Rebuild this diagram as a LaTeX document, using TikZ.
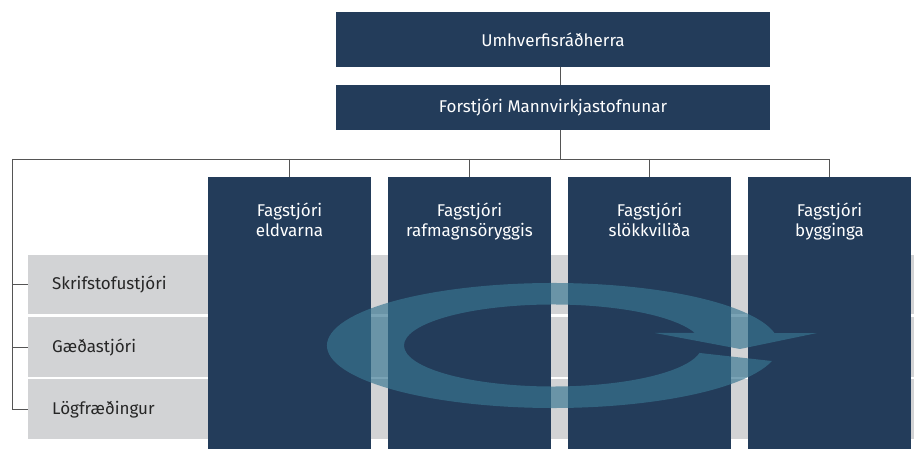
\documentclass[tikz,border=0pt]{standalone}
\usepackage{fontspec}
\setmainfont{Fira Sans}
\usepackage{tikz}
\usetikzlibrary{positioning,calc}
\definecolor{navy}{RGB}{35,60,90}
\definecolor{rowgrey}{RGB}{210,211,213}
\definecolor{ringblue}{RGB}{56,118,145}
\definecolor{wiregrey}{RGB}{85,85,85}
\tikzset{
  topbox/.style={fill=navy, text=white, minimum width=434, inner sep=0pt, font=\fontsize{17}{20}\selectfont},
  colbox/.style={fill=navy, anchor=north, minimum width=163, minimum height=272, inner sep=0pt},
  coltext/.style={text=white, align=center, inner sep=0pt, font=\fontsize{17}{20}\selectfont},
  rowbox/.style={fill=rowgrey, anchor=north west, minimum width=886, text width=862, inner xsep=24pt, align=left, text=black!85, font=\fontsize{17}{20}\selectfont},
  wire/.style={draw=wiregrey, line width=0.9pt}
}
\begin{document}
\begin{tikzpicture}[x=1pt,y=-1pt]
\useasboundingbox (0,0) rectangle (914,449);
% top of the chart
\node[topbox, minimum height=55] (minister) at (553,39.5) {Umhverfisráðherra};
\node[topbox, minimum height=45] (director) at (553,107.5) {Forstjóri Mannvirkjastofnunar};
\coordinate (spine) at (560,159);
\coordinate (bus) at (12,159);
% staff rows
\node[rowbox, minimum height=59] (office) at (28,255) {Skrifstofustjóri};
\node[rowbox, minimum height=60] (quality) at (28,317) {Gæðastjóri};
\node[rowbox, minimum height=60] (legal) at (28,379) {Lögfræðingur};
% specialist columns
\node[colbox] (fire) at (289.5,177) {};
\node[colbox] (power) at (469.5,177) {};
\node[colbox] (brigade) at (649.5,177) {};
\node[colbox] (build) at (829.5,177) {};
\node[coltext, below=26pt of fire.north] {Fagstjóri\\eldvarna};
\node[coltext, below=26pt of power.north] {Fagstjóri\\rafmagnsöryggis};
\node[coltext, below=26pt of brigade.north] {Fagstjóri\\slökkviliða};
\node[coltext, below=26pt of build.north] {Fagstjóri\\bygginga};
% lines
\draw[wire] (minister.south -| spine) -- (director.north -| spine);
\draw[wire] (director.south -| spine) -- (spine);
\draw[wire] (bus) -- (build.north |- bus) -- (build.north);
\draw[wire] (bus) |- (legal.west);
\foreach \c in {fire,power,brigade}
    \draw[wire] (\c.north |- bus) -- (\c.north);
\foreach \r in {office,quality}
    \draw[wire] (\r.west -| bus) -- (\r.west);
% cycle arrow
\fill[ringblue, fill opacity=0.67]
  ([shift={(553,345.5)}]14.4:226 and 62.5)
  arc[start angle=14.4, end angle=348.5, x radius=226, y radius=62.5]
  -- (817,333) -- (740,349) -- (655,333)
  -- ([shift={(553,345.5)}]342.2:149 and 41)
  arc[start angle=342.2, end angle=10.5, x radius=149, y radius=41]
  -- cycle;
\end{tikzpicture}
\end{document}
